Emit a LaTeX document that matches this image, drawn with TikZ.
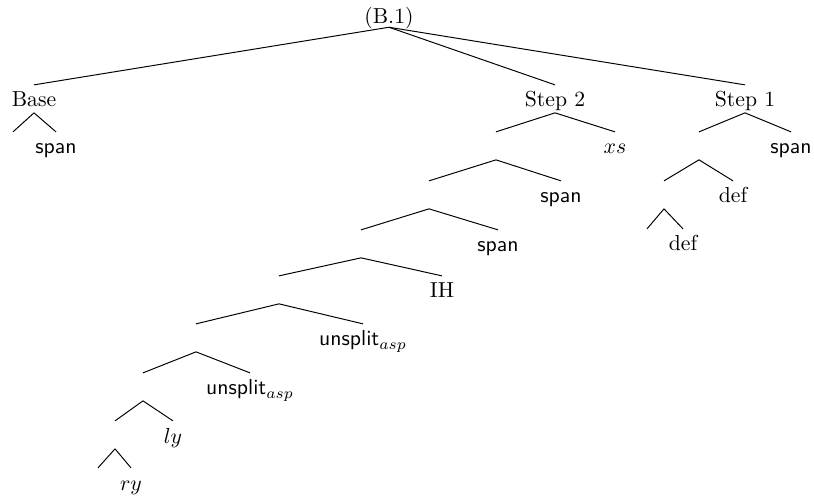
\documentclass[tikz,border=0pt]{standalone}
\begin{document}
\begin{tikzpicture}[x=0.4608pt,y=-0.4608pt,
  tn/.style={inner sep=0pt, text height=10pt, text depth=2.5pt, anchor=base},
  edge/.style={draw=black, line width=0.45pt}]
\useasboundingbox (0,0) rectangle (814,497);
% nodes (x = centre, y = baseline, in pixels)
\node[tn, text depth=1.3pt] (root) at (389,24) {(B.1)};
\node[tn] (base) at (34,107) {Base};
\node[tn] (step2) at (555,107) {Step 2};
\node[tn] (step1) at (745,107) {Step 1};
% Base subtree
\node[tn] (e1) at (13,154) {};
\node[tn] (spanA) at (56,154) {\textsf{span}};
% Step 2 subtree
\node[tn] (n1) at (496,154) {};
\node[tn] (xs) at (615,154) {$xs$};
\node[tn] (n2) at (429,203) {};
\node[tn] (spanB) at (561,203) {\textsf{span}};
\node[tn] (n3) at (361,252) {};
\node[tn] (spanC) at (498,252) {\textsf{span}};
\node[tn] (n4) at (279,298) {};
\node[tn] (ih) at (442,298) {IH};
\node[tn] (n5) at (196,346) {};
\node[tn] (unA) at (363,346) {\textsf{unsplit}$_{asp}$};
\node[tn] (n6) at (143,395) {};
\node[tn] (unB) at (250,395) {\textsf{unsplit}$_{asp}$};
\node[tn] (n7) at (115,443) {};
\node[tn] (ly) at (173,443) {$ly$};
\node[tn] (e2) at (98,490) {};
\node[tn] (ry) at (131,490) {$ry$};
% Step 1 subtree
\node[tn] (m1) at (699,154) {};
\node[tn] (spanD) at (791,154) {\textsf{span}};
\node[tn] (m2) at (664,203) {};
\node[tn] (defA) at (733,203) {def};
\node[tn] (e3) at (647,251) {};
\node[tn] (defB) at (683,251) {def};
% edges
\foreach \p/\c in {root/base, root/step2, root/step1,
  base/e1, base/spanA,
  step2/n1, step2/xs, n1/n2, n1/spanB, n2/n3, n2/spanC,
  n3/n4, n3/ih, n4/n5, n4/unA, n5/n6, n5/unB, n6/n7, n6/ly,
  n7/e2, n7/ry,
  step1/m1, step1/spanD, m1/m2, m1/defA, m2/e3, m2/defB}
  \draw[edge] (\p.south) -- (\c.north);
\end{tikzpicture}
\end{document}
